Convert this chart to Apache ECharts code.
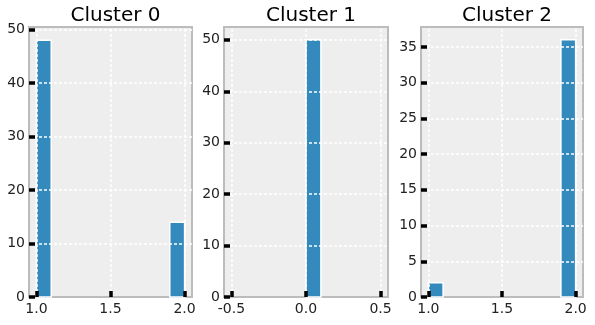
<!DOCTYPE html>
<html>
<head>
<meta charset="utf-8">
<script src="https://cdn.jsdelivr.net/npm/echarts@6/dist/echarts.min.js"></script>
<style>
  html, body { margin: 0; padding: 0; background: #fff; }
  #chart { width: 595px; height: 325px; }
</style>
</head>
<body>
<div id="chart"></div>
<script>
// histogram data per cluster (bin edges + counts)
const titles = ['Cluster 0', 'Cluster 1', 'Cluster 2'];

const cluster0Edges = [1.0, 1.1, 1.2, 1.3, 1.4, 1.5, 1.6, 1.7, 1.8, 1.9, 2.0];
const cluster0Counts = [48, 0, 0, 0, 0, 0, 0, 0, 0, 14];

const cluster1Edges = [-0.5, -0.4, -0.3, -0.2, -0.1, 0.0, 0.1, 0.2, 0.3, 0.4, 0.5];
const cluster1Counts = [0, 0, 0, 0, 0, 50, 0, 0, 0, 0];

const cluster2Edges = [1.0, 1.1, 1.2, 1.3, 1.4, 1.5, 1.6, 1.7, 1.8, 1.9, 2.0];
const cluster2Counts = [2, 0, 0, 0, 0, 0, 0, 0, 0, 36];

const xTicks0 = [1.0, 1.5, 2.0];
const xTicks1 = [-0.5, 0.0, 0.5];
const xTicks2 = [1.0, 1.5, 2.0];

const yTicks0 = [0, 10, 20, 30, 40, 50];
const yTicks1 = [0, 10, 20, 30, 40, 50];
const yTicks2 = [0, 5, 10, 15, 20, 25, 30, 35];

const panels = [
  { edges: cluster0Edges, counts: cluster0Counts, xTicks: xTicks0, yTicks: yTicks0, xRange: [0.95, 2.05], yMax: 50.5 },
  { edges: cluster1Edges, counts: cluster1Counts, xTicks: xTicks1, yTicks: yTicks1, xRange: [-0.55, 0.55], yMax: 52.5 },
  { edges: cluster2Edges, counts: cluster2Counts, xTicks: xTicks2, yTicks: yTicks2, xRange: [0.95, 2.05], yMax: 37.8 }
];

const gridBoxes = [
  { left: 29, width: 163 },
  { left: 224, width: 164 },
  { left: 421, width: 162 }
];

const FONT = 'DejaVu Sans';
const BAR = '#348ABD';

const chart = echarts.init(document.getElementById('chart'), null, { renderer: 'canvas' });

const grid = gridBoxes.map((g) => ({
  left: g.left, width: g.width, top: 27, height: 270,
  show: true, backgroundColor: '#eeeeee', borderColor: '#bcbcbc', borderWidth: 2
}));

const title = titles.map((t, i) => ({
  text: t,
  left: gridBoxes[i].left + gridBoxes[i].width / 2,
  textAlign: 'center',
  top: 1,
  textStyle: { fontFamily: FONT, fontSize: 20, fontWeight: 'normal', color: '#000' }
}));

// ticks sit on top of bars and grid lines, like the xkcd look
const tickStyle = { show: true, inside: true, length: 6, lineStyle: { color: '#000', width: 3.5 } };

const xAxis = panels.map((p, i) => ({
  type: 'value', gridIndex: i, min: p.xRange[0], max: p.xRange[1], z: 10,
  axisLine: { show: false, onZero: false },
  axisTick: Object.assign({ customValues: p.xTicks }, tickStyle),
  splitLine: { show: false },
  axisLabel: {
    customValues: p.xTicks, margin: 5, color: '#222', fontFamily: FONT, fontSize: 14,
    formatter: (v) => v.toFixed(1)
  }
}));

const yAxis = panels.map((p, i) => ({
  type: 'value', gridIndex: i, min: 0, max: p.yMax, z: 10,
  axisLine: { show: false, onZero: false },
  axisTick: Object.assign({ customValues: p.yTicks }, tickStyle),
  splitLine: { show: false },
  axisLabel: { customValues: p.yTicks, margin: 4, color: '#222', fontFamily: FONT, fontSize: 14 }
}));

const gridLine = { color: '#ffffff', width: 1.5, type: [3, 2] };

const series = panels.map((p, i) => {
  const data = p.counts.map((c, k) => [p.edges[k], p.edges[k + 1], c]);
  const lines = p.xTicks.map((v) => ({ xAxis: v }))
    .concat(p.yTicks.filter((v) => v > 0).map((v) => ({ yAxis: v })));
  return {
    type: 'custom', xAxisIndex: i, yAxisIndex: i, data,
    encode: { x: [0, 1], y: 2 },
    renderItem: (params, api) => {
      const c = api.value(2);
      if (!c) return null;
      const a = api.coord([api.value(0), c]);
      const b = api.coord([api.value(1), 0]);
      return {
        type: 'rect',
        shape: { x: a[0], y: a[1], width: b[0] - a[0], height: b[1] - a[1] },
        style: { fill: BAR, stroke: '#fff', lineWidth: 1.5 }
      };
    },
    markLine: {
      silent: true, symbol: 'none', label: { show: false },
      lineStyle: gridLine, data: lines, animation: false
    },
    animation: false
  };
});

chart.setOption({ animation: false, title, grid, xAxis, yAxis, series });
</script>
</body>
</html>
